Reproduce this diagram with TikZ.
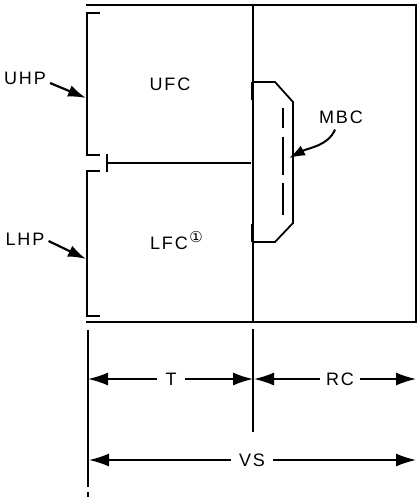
\documentclass[tikz,border=0pt]{standalone}
\usepackage{fontspec}
\setmainfont{Liberation Sans}[LetterSpace=10]
\newfontfamily\dejavu{DejaVu Sans}
\usetikzlibrary{arrows.meta}
\begin{document}
\begin{tikzpicture}[x=1pt,y=-1pt,
  ln/.style={line width=2pt},
  thin ln/.style={line width=1.4pt},
  dimarrow/.style={line width=1.6pt,-{Latex[length=20pt,width=13pt]}},
  ptr/.style={line width=2.2pt,-{Latex[length=18pt,width=12pt]}},
  lbl/.style={font=\fontsize{18}{21}\selectfont,inner sep=0pt},
  dimlbl/.style={font=\fontsize{18}{21}\selectfont,fill=white,inner sep=0pt,minimum height=12pt}]
\useasboundingbox (0,0) rectangle (418,498);
% frame
\draw[ln] (86,5) -- (416,5) -- (416,322) -- (86,322);
\draw[ln] (253,5) -- (253,322);
% brackets
\draw[ln] (100,13) -- (87,13) -- (87,155) -- (100,155);
\draw[ln] (100,171) -- (87,171) -- (87,316) -- (100,316);
% T bar and connecting line
\draw[ln] (107,154) -- (107,172);
\draw[thin ln] (107,163) -- (251,163);
% MBC shape
\draw[line width=1.8pt] (253,82) -- (275,82) -- (293,102) -- (293,223) -- (275,242) -- (253,242);
\draw[line width=2.8pt] (252,82) -- (252,100);
\draw[line width=2.8pt] (252,224) -- (252,242);
\draw[line width=1.8pt] (283,108) -- (283,128);
\draw[line width=1.8pt] (283,137) -- (283,175);
\draw[line width=1.8pt] (283,183) -- (283,215);
% labels top
\node[lbl] (ufc) at (170,84) {UFC};
\node[lbl] (lfc) at (169,243) {LFC};
\node[font=\dejavu\fontsize{15}{16}\selectfont,inner sep=0pt] (one) at (196,237) {①};
\node[lbl] (uhp) at (25,78) {UHP};
\node[lbl] (lhp) at (25,239) {LHP};
\node[lbl] (mbc) at (341,117) {MBC};
\coordinate (uhpT) at (86,98);
\coordinate (lhpT) at (86,259);
\coordinate (mbcT) at (289,158);
\draw[ptr] (uhp.east) ++(4,5) -- (uhpT);
\draw[ptr] (lhp.east) ++(4,2) -- (lhpT);
\draw[line width=2pt,-{Latex[length=16pt,width=11pt]}] (mbc.south) ++(-6,6) .. controls (328,146) and (308,148) .. (mbcT);
% bottom extension lines
\draw[ln] (88,330) -- (88,487);
\draw[ln] (88,492) -- (88,497);
\draw[ln] (253,329) -- (253,432);
% dimensions
\node[dimlbl,minimum width=28pt] (t) at (171,379) {T};
\node[dimlbl,minimum width=40pt] (rc) at (340,379) {RC};
\node[dimlbl,minimum width=42pt] (vs) at (252,460) {VS};
\coordinate (tL) at (88,379);
\coordinate (tR) at (253,379);
\coordinate (rcL) at (254,379);
\coordinate (rcR) at (416,379);
\coordinate (vsL) at (89,460);
\coordinate (vsR) at (416,460);
\draw[dimarrow] (t.west) -- (tL);
\draw[dimarrow] (t.east) -- (tR);
\draw[dimarrow] (rc.west) -- (rcL);
\draw[dimarrow] (rc.east) -- (rcR);
\draw[dimarrow] (vs.west) -- (vsL);
\draw[dimarrow] (vs.east) -- (vsR);
\end{tikzpicture}
\end{document}
